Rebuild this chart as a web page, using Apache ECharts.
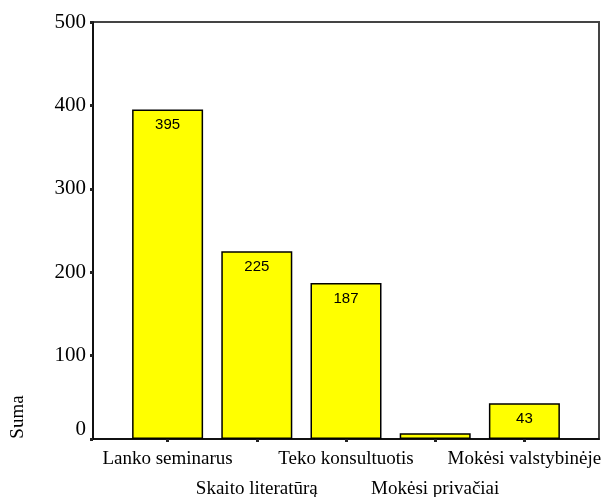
<!DOCTYPE html>
<html>
<head>
<meta charset="utf-8">
<script src="https://cdn.jsdelivr.net/npm/echarts@6/dist/echarts.min.js"></script>
<style>
  html, body { margin: 0; padding: 0; background: #fff; }
  #chart { width: 605px; height: 497px; }
</style>
</head>
<body>
<div id="chart"></div>
<script>
// duomenys
var categories = ['Lanko seminarus', 'Skaito literatūrą', 'Teko konsultuotis', 'Mokėsi privačiai', 'Mokėsi valstybinėje'];
var values = [395, 225, 187, 7, 43];
var yMin = 0, yMax = 500, yStep = 100;
var axisName = 'Suma';

var serif = "'Liberation Serif', 'Times New Roman', serif";
var sans = "'Liberation Sans', Arial, sans-serif";

var chart = echarts.init(document.getElementById('chart'), null, { renderer: 'canvas' });

var option = {
  animation: false,
  grid: [
    { // remelis + y asis
      left: 93, top: 22, width: 506, height: 417,
      show: true, borderColor: '#444', borderWidth: 2,
      outerBoundsMode: 'none'
    },
    { // stulpeliai
      left: 123, top: 22, width: 446, height: 417,
      outerBoundsMode: 'none'
    }
  ],
  xAxis: [
    {
      gridIndex: 0, type: 'value', min: 0, max: 1,
      axisLine: { show: true, lineStyle: { color: '#000', width: 1.5 } },
      axisTick: { show: false }, axisLabel: { show: false }, splitLine: { show: false }
    },
    {
      gridIndex: 1, type: 'category', data: categories,
      axisLine: { show: false },
      axisTick: { show: true, alignWithLabel: true, length: 3, lineStyle: { color: '#222', width: 3 } },
      axisLabel: {
        interval: 0, margin: 5,
        fontFamily: serif, fontSize: 19, color: '#000', lineHeight: 30,
        formatter: function (v, i) { return i % 2 ? '\n' + v : v; }
      }
    }
  ],
  yAxis: [
    {
      gridIndex: 0, type: 'value', min: yMin, max: yMax, interval: yStep,
      axisLine: { show: true, lineStyle: { color: '#000', width: 1.5 } },
      axisTick: { show: true, length: 3, lineStyle: { color: '#222', width: 3 } },
      axisLabel: {
        fontFamily: serif, fontSize: 21, color: '#000', margin: 7,
        // nulis pakeltas virs asies
        formatter: function (v) { return v === 0 ? '{low|0}' : String(v); },
        rich: { low: { fontFamily: serif, fontSize: 21, color: '#000', padding: [0, 0, 20, 0] } }
      },
      splitLine: { show: false }
    },
    {
      gridIndex: 1, type: 'value', min: yMin, max: yMax, interval: yStep, show: false
    }
  ],
  graphic: [
    {
      type: 'text', x: 18, y: 417, rotation: Math.PI / 2,
      style: { text: axisName, fontFamily: serif, fontSize: 19, fill: '#000', align: 'center', verticalAlign: 'middle' }
    }
  ],
  series: [
    {
      type: 'bar', xAxisIndex: 1, yAxisIndex: 1,
      barWidth: 71,
      data: values.map(function (v) { return { value: v, label: { show: v >= 20 } }; }),
      itemStyle: { color: '#ffff00', borderColor: '#000', borderWidth: 1.5 },
      label: {
        position: 'insideTop', distance: 8,
        fontFamily: sans, fontSize: 15, color: '#000'
      }
    }
  ]
};

chart.setOption(option);
</script>
</body>
</html>
